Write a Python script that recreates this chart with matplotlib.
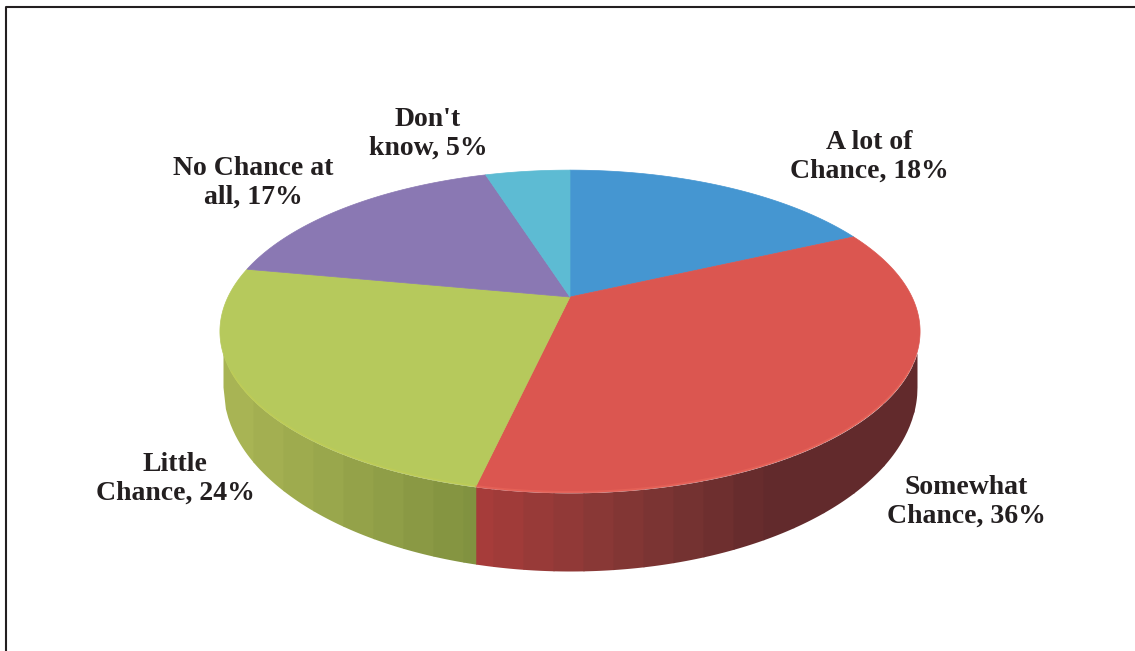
import numpy as np
import matplotlib
matplotlib.use('Agg')
import matplotlib.pyplot as plt
from matplotlib.patches import Polygon

labels = ['A lot of\nChance', 'Somewhat\nChance', 'Little\nChance', 'No Chance at\nall', "Don't\nknow"]
percents = [18, 36, 24, 17, 5]
# the slices are not drawn quite at the printed share
shares = [18, 35.5, 24.5, 17.2, 4.8]
colors = ['#4596D1', '#DB5650', '#B6C95C', '#8A78B3', '#5DBBD3']
label_pos = [(869, 157), (966, 502), (175, 479), (253, 183), (428, 134)]

plt.rcParams['font.family'] = ['Liberation Serif', 'DejaVu Serif']

W, H = 1135, 651
cx, cy = 570, 297
rx, a, k = 342, 154, 0.2136


def rim(theta):
    # clockwise from the top of the pie, with some perspective
    u, v = np.sin(theta), -np.cos(theta)
    d = 1 - k * v
    return cx + rx * u / d, cy + a * v / d


def mix(c0, c1, t):
    c0, c1 = np.array(matplotlib.colors.to_rgb(c0)), np.array(matplotlib.colors.to_rgb(c1))
    return tuple(c0 + (c1 - c0) * t)


fig = plt.figure(figsize=(W / 100, H / 100), dpi=100)
ax = fig.add_axes([0, 0, 1, 1])
ax.set_xlim(0, W)
ax.set_ylim(H, 0)
ax.axis('off')

# frame, only left and top are in the picture
ax.plot([5.5, 5.5, W], [H, 6.5, 6.5], color='#231f20', lw=1.5, solid_capstyle='butt')

edges = np.cumsum([0] + shares) / sum(shares) * 2 * np.pi

# side of the pie, in vertical bands
t = np.linspace(0, 2 * np.pi, 1441)
xr, yr = rim(t)
front = yr > 331.5
order = np.argsort(xr[front])
xf, yf = xr[front][order], yr[front][order]
xsplit = rim(edges[2])[0]

band_edges = np.arange(223, 917, 30.0)
band_edges = np.sort(np.append(band_edges, [xsplit, 917]))
for x0, x1 in zip(band_edges[:-1], band_edges[1:]):
    # one pixel of overlap so no seam shows between the bands
    xs = np.linspace(x0, min(x1 + 1, 917), 14)
    top = np.interp(xs, xf, yf)
    bot = 387 + 184 * np.sqrt(np.clip(1 - ((xs - 570) / 347.0) ** 2, 0, 1))
    bot = np.maximum(top, bot)
    xm = (x0 + x1) / 2
    if xm < xsplit:
        c = mix('#ABB655', '#80913F', (xm - 223) / (xsplit - 223))
    elif xm < 640:
        c = mix('#A83C3A', '#7F3634', (xm - xsplit) / (640 - xsplit))
    else:
        c = mix('#7F3634', '#622A2C', min((xm - 640) / 130, 1))
    ax.fill_between(xs, top, bot, color=c, lw=0, zorder=2)

# top of the pie
for i, col in enumerate(colors):
    th = np.linspace(edges[i], edges[i + 1], 200)
    x, y = rim(th)
    pts = np.column_stack([np.r_[cx, x], np.r_[cy, y]])
    ax.add_patch(Polygon(pts, closed=True, fc=col, ec=col, lw=0.5, zorder=3))

# lighter lip along the front edge
for i, col in [(1, '#EE6A5C'), (2, '#C4CE52')]:
    th = np.linspace(edges[i], edges[i + 1], 200)
    x, y = rim(th)
    m = y > 372
    ax.plot(x[m], y[m] - 1, color=col, lw=1.2, alpha=0.5, zorder=4)

for lab, v, (lx, ly) in zip(labels, percents, label_pos):
    ax.text(lx, ly, f'{lab}, {v}%', ha='center', va='center', fontsize=20,
            fontweight='bold', color='#231f20', linespacing=1.2, zorder=5)

fig.savefig('out.png', dpi=100)
